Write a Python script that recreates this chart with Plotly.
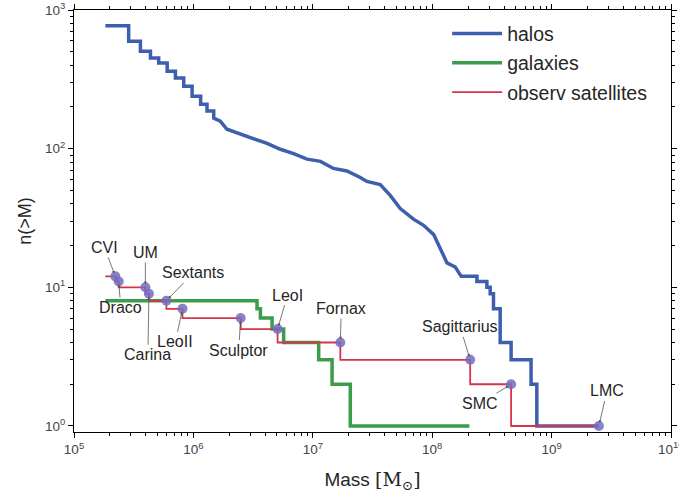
import math
import plotly.graph_objects as go

# Cumulative halo mass function n(>M); repeated masses mark the vertical
# risers of the resolved steps at the low- and high-mass ends
halo_mass = [1.83e5, 2.87e5, 2.87e5, 3.60e5, 3.60e5, 4.37e5, 4.37e5, 5.12e5, 5.12e5,
             6.03e5, 6.03e5, 7.07e5, 7.07e5, 8.30e5, 8.30e5, 9.75e5, 9.75e5, 1.15e6,
             1.15e6, 1.30e6, 1.30e6, 1.48e6, 1.48e6,
             1.68e6, 1.91e6, 2.47e6, 3.20e6, 4.14e6, 5.35e6, 6.91e6, 8.94e6, 1.16e7,
             1.49e7, 1.93e7, 2.50e7, 2.84e7, 3.67e7, 4.45e7, 5.40e7, 6.97e7, 8.46e7,
             1.03e8, 1.17e8, 1.33e8, 1.56e8, 1.75e8,
             2.37e8, 2.37e8, 2.87e8, 2.87e8, 3.06e8, 3.06e8, 3.26e8, 3.26e8, 3.71e8,
             3.71e8, 4.58e8, 4.58e8, 6.73e8, 6.73e8, 7.52e8, 7.52e8, 2.47e9]
halo_n = [771, 771, 595, 595, 504, 504, 451, 451, 415,
          415, 361, 361, 323, 323, 282, 282, 239, 239,
          209, 209, 187, 187, 166,
          158, 138, 128, 119, 109, 99, 92, 84, 81,
          72, 69, 62, 58, 55, 46, 37, 31, 28,
          24, 19, 15, 14, 12,
          12, 11, 11, 10, 10, 9, 9, 7, 7,
          4, 4, 3, 3, 2, 2, 1, 1]

# Galaxies hosted by the halos
gal_mass = [1.83e5, 3.41e6, 3.64e6, 4.56e6, 5.70e6, 1.12e7, 1.45e7, 2.06e7, 2.05e8]
gal_n = [8, 8, 7, 6, 5, 4, 3, 2, 1]

# Observed Milky Way satellites
mass_min = 1.83e5
sat_names = ["CVI", "Draco", "UM", "Carina", "Sextants", "LeoII", "Sculptor",
             "LeoI", "Fornax", "Sagittarius", "SMC", "LMC"]
sat_mass = [2.22e5, 2.37e5, 3.96e5, 4.24e5, 5.94e5, 8.10e5, 2.49e6,
            5.07e6, 1.70e7, 2.08e8, 4.58e8, 2.49e9]
sat_n = [12, 11, 10, 9, 8, 7, 6, 5, 4, 3, 2, 1]
# label offsets (px) from each satellite point
label_dx = [-11, 2, 0, -1, 27, -7, -2, 10, 1, -10, -31, 8]
label_dy = [-29, 26, -35, 61, -28, 33, 32, -34, -34, -33, 19, -35]

x_decades = [5, 6, 7, 8, 9, 10]
y_decades = [0, 1, 2, 3]

BLUE = "#3d5fae"
GREEN = "#3b9c4c"
RED = "#d6344a"
PURPLE = "rgba(118,108,190,0.85)"
FONT = "Liberation Sans, Arial, sans-serif"
TICK_FONT = dict(family=FONT, size=13.5, color="#444444")

fig = go.Figure()
fig.add_trace(go.Scatter(x=halo_mass, y=halo_n, mode="lines", name="halos",
                         legendgroup="a",
                         line=dict(color=BLUE, width=3.5)))
fig.add_trace(go.Scatter(x=gal_mass, y=gal_n, mode="lines", name="galaxies",
                         legendgroup="b",
                         line=dict(color=GREEN, width=3.5, shape="vh")))
fig.add_trace(go.Scatter(x=[mass_min] + sat_mass, y=[sat_n[0]] + sat_n, mode="lines",
                         name="observ satellites", legendgroup="c",
                         line=dict(color=RED, width=1.8, shape="vh")))
fig.add_trace(go.Scatter(x=sat_mass, y=sat_n, mode="markers", showlegend=False,
                         marker=dict(color=PURPLE, size=10, line=dict(width=0))))

# annotation positions on log axes are given in log10 units
for name, m, n, dx, dy in zip(sat_names, sat_mass, sat_n, label_dx, label_dy):
    fig.add_annotation(x=math.log10(m), y=math.log10(n), xref="x", yref="y", text=name,
                       ax=dx, ay=dy, showarrow=True, arrowhead=2, arrowsize=0.7,
                       arrowwidth=0.8, arrowcolor="#555555", standoff=3,
                       font=dict(family=FONT, size=16, color="#262626"))


def log_axis(decades):
    minor_vals = [k * 10 ** d for d in decades[:-1] for k in range(2, 10)]
    return dict(type="log", showgrid=False, zeroline=False, showline=True,
                linecolor="black", linewidth=1, mirror="allticks",
                ticks="outside", ticklen=5, tickwidth=1, tickcolor="black",
                tickmode="array", tickvals=[10 ** d for d in decades],
                ticktext=["10<sup>%d</sup>" % d for d in decades],
                tickfont=TICK_FONT,
                minor=dict(ticks="outside", ticklen=3, tickwidth=0.8,
                           tickcolor="black", showgrid=False,
                           tickmode="array", tickvals=minor_vals))


fig.update_xaxes(range=[5, 10],
                 title=dict(text="Mass <span style='font-family:DejaVu Serif'>[M<sub>⊙</sub>]</span>",
                            font=dict(family=FONT, size=19, color="#262626"), standoff=16),
                 **log_axis(x_decades))
fig.update_yaxes(range=[-0.0434, 3],
                 title=dict(text="n(>M)", font=dict(family=FONT, size=18, color="#262626"),
                            standoff=8),
                 **log_axis(y_decades))

# last x tick label sits on the right page edge and runs past it
fig.add_annotation(x=1, y=-0.012, xref="paper", yref="paper", xanchor="center",
                   yanchor="top", showarrow=False,
                   text="10<sup>%d</sup>" % x_decades[-1], font=TICK_FONT)

fig.update_layout(
    width=679, height=497,
    margin=dict(l=74, r=8, t=10, b=65, autoexpand=False),
    plot_bgcolor="white", paper_bgcolor="white",
    legend=dict(x=0.625, y=0.99, xanchor="left", yanchor="top",
                bgcolor="rgba(0,0,0,0)", traceorder="grouped", tracegroupgap=1,
                itemwidth=50,
                font=dict(family=FONT, size=19.5, color="#262626")),
)

fig.write_html("out.html")
